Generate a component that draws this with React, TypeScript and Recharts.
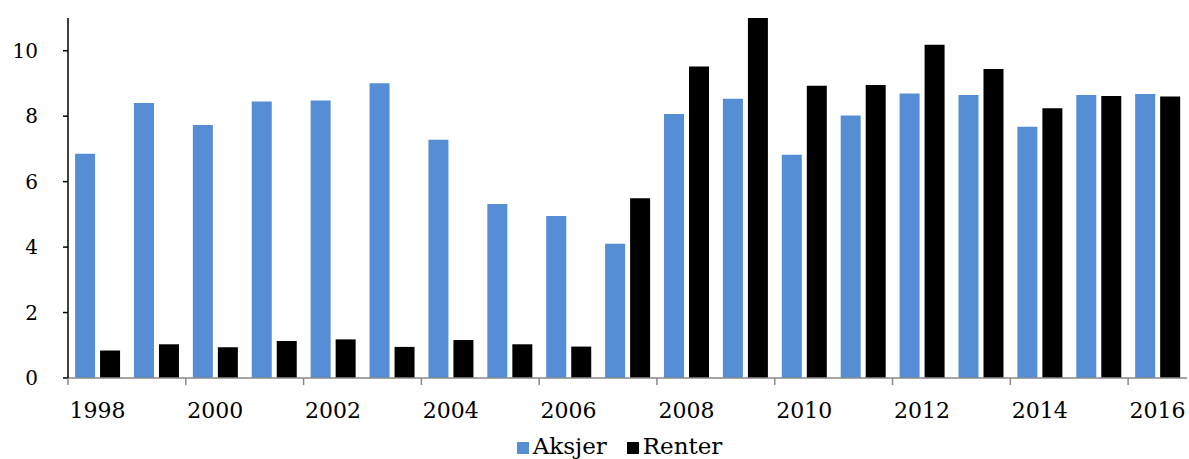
import { BarChart, Bar, XAxis, YAxis, Legend } from "recharts";

const years = [
  "1998", "1999", "2000", "2001", "2002", "2003", "2004", "2005", "2006", "2007",
  "2008", "2009", "2010", "2011", "2012", "2013", "2014", "2015", "2016",
];
const aksjer = [
  6.85, 8.4, 7.73, 8.45, 8.48, 9.01, 7.28, 5.32, 4.95, 4.1,
  8.07, 8.53, 6.82, 8.02, 8.69, 8.65, 7.68, 8.65, 8.68,
];
const renter = [
  0.84, 1.03, 0.94, 1.13, 1.18, 0.95, 1.16, 1.03, 0.96, 5.49,
  9.52, 11.0, 8.93, 8.95, 10.18, 9.44, 8.24, 8.62, 8.6,
];
const yTicks = [0, 2, 4, 6, 8, 10];

const data = years.map((year, i) => ({ year, Aksjer: aksjer[i], Renter: renter[i] }));

const W = 1189;
const H = 459;
const LEFT = 68;
const RIGHT = 2;
const BAND = (W - LEFT - RIGHT) / years.length;
const FONT = "'DejaVu Serif', serif";

function YearTick(props: any) {
  const { x, y, index, payload } = props;
  if (index % 2 !== 0) return null;
  const half = payload && payload.offset ? payload.offset : BAND / 2;
  return (
    <g>
      <line x1={x - half} x2={x - half} y1={y} y2={y + 7} stroke="#898989" strokeWidth={1.5} />
      <text x={x} y={y + 40} textAnchor="middle" fontSize={22} fill="#000" fontFamily={FONT}>
        {payload.value}
      </text>
    </g>
  );
}

export default function App() {
  return (
    <div style={{ position: "absolute", left: 0, top: 0, width: W, height: H, background: "#fff", fontFamily: FONT }}>
      <BarChart
        width={W}
        height={H}
        data={data}
        margin={{ top: 18, right: RIGHT, left: 0, bottom: 0 }}
        barCategoryGap="12%"
        barGap={5}
      >
        <XAxis
          dataKey="year"
          interval={0}
          height={55}
          axisLine={{ stroke: "#898989", strokeWidth: 1.5 }}
          tickLine={false}
          tickSize={0}
          tickMargin={0}
          tick={<YearTick />}
        />
        <YAxis
          width={LEFT}
          domain={[0, 11]}
          ticks={yTicks}
          allowDataOverflow
          axisLine={{ stroke: "#000", strokeWidth: 1.5 }}
          tickLine={{ stroke: "#000", strokeWidth: 1.5 }}
          tickSize={5}
          tickMargin={25}
          tick={{ fontSize: 20, fill: "#000", fontFamily: FONT }}
        />
        <Legend
          verticalAlign="bottom"
          iconType="square"
          iconSize={12}
          wrapperStyle={{ left: 30, width: W, fontSize: 23, fontFamily: FONT, lineHeight: "26px" }}
          formatter={(value: string, _e: any, i: number) => (
            <span style={{ color: "#000", paddingRight: i === 0 ? 10 : 0 }}>{value}</span>
          )}
        />
        <Bar dataKey="Aksjer" fill="#558ED5" isAnimationActive={false} />
        <Bar dataKey="Renter" fill="#000000" isAnimationActive={false} />
      </BarChart>
    </div>
  );
}
